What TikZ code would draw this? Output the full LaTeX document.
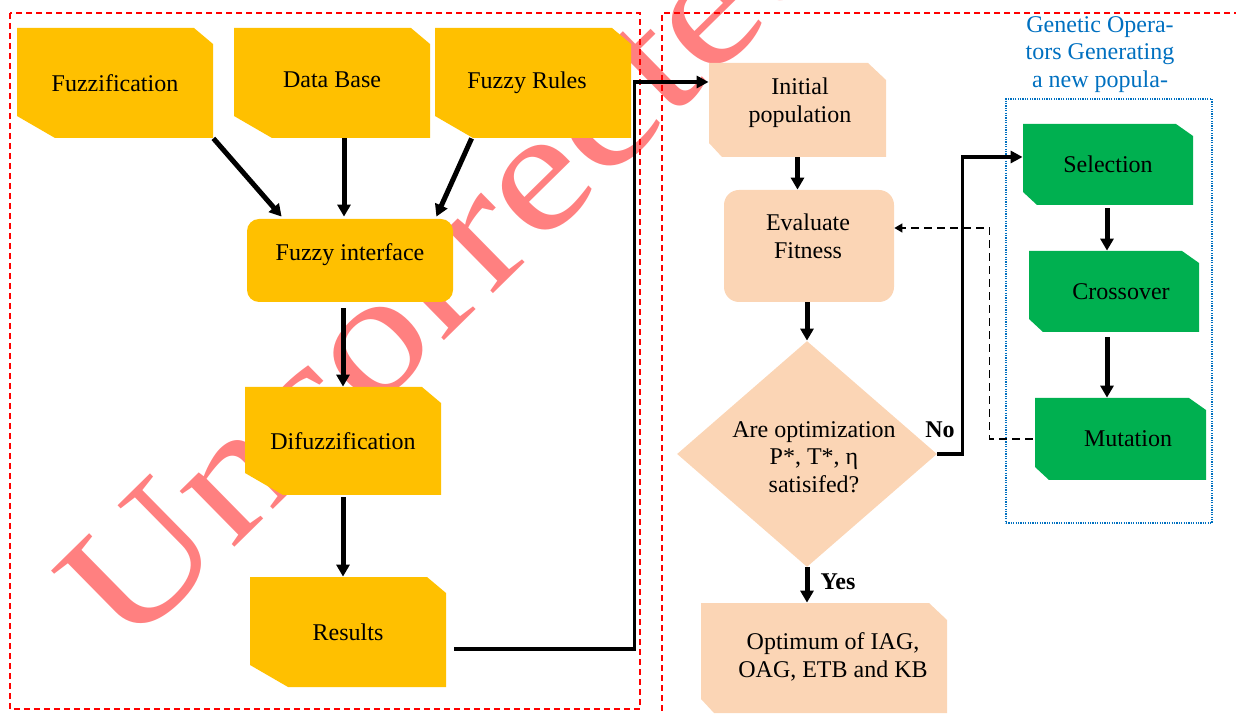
\documentclass[tikz,border=0pt]{standalone}
\usepackage{fontspec}
\setmainfont{Liberation Serif}
\usetikzlibrary{arrows.meta,shapes.geometric,calc}
\definecolor{fyel}{HTML}{FFC000}
\definecolor{fpeach}{HTML}{FBD5B5}
\definecolor{fgreen}{HTML}{00B050}
\definecolor{fblue}{HTML}{0070C0}
\definecolor{wm}{HTML}{FF8080}
\begin{document}
\begin{tikzpicture}[x=0.5pt,y=-0.5pt,
 font=\fontsize{12}{13.8}\selectfont,
 snipbox/.style n args={5}{rectangle, inner sep=0pt, path picture={
   \fill[#1] ([xshift=-#2]path picture bounding box.north east) -- ([yshift=-#3]path picture bounding box.north east) -- (path picture bounding box.south east) -- ([xshift=#4]path picture bounding box.south west) -- ([yshift=#5]path picture bounding box.south west) -- (path picture bounding box.north west) -- cycle;}},
 ybox/.style={snipbox={fyel}{9.5pt}{8pt}{19pt}{11pt}, minimum width=98pt, minimum height=55pt},
 gbox/.style={snipbox={fgreen}{8.5pt}{6pt}{7pt}{6.5pt}, minimum width=85pt, minimum height=40.5pt},
 pbox/.style={snipbox={fpeach}{9pt}{8.5pt}{6.5pt}{7pt}},
 rbox/.style={rectangle, inner sep=0pt, fill=#1},
 txt/.style={align=center, inner sep=0pt},
 arr/.style={line width=2.5pt, -{Triangle[length=6pt,width=6.5pt]}},
 arrthin/.style={line width=1.7pt, -{Triangle[length=6pt,width=6pt]}},
 dasharr/.style={line width=0.8pt, dash pattern=on 4pt off 2.5pt, -{Triangle[length=4pt,width=4.5pt]}},
 redbox/.style={red, line width=0.8pt, dash pattern=on 3pt off 2pt},
]
\useasboundingbox (0,0) rectangle (1236,715);
\clip (0,0) rectangle (1236,715);
% watermark
\node[text=wm, rotate=44.5, xscale=1.2, anchor=base west, inner sep=0pt, font=\fontsize{85}{90}\selectfont] (wmark) at (126.5,654) {Uncorrected};
% dashed frames
\draw[redbox] (10,13) rectangle (640,709);
\draw[redbox] (1240,13) -- (662,13) -- (662,720);
% left part
\node[ybox] (fuzz) at (115,83) {Fuzzification};
\node[ybox] (db) at (332,83) {\raisebox{3pt}{Data Base}};
\node[ybox] (rules) at (533,83) {\raisebox{3pt}{Fuzzy Rules\hspace{6pt}}};
\node[rbox=fyel, rounded corners=6pt, minimum width=103pt, minimum height=41.5pt] (finter) at (350,260.5) {\raisebox{8.5pt}{Fuzzy interface}};
\node[ybox, minimum height=54pt] (difuz) at (343,441) {Difuzzification};
\node[ybox] (res) at (348,632) {Results};
% right part
\node[pbox, minimum width=88.5pt, minimum height=47pt] (init) at (797.5,110) {};
\node[txt] (initT) at (800,102.5) {Initial\\population};
\node[rbox=fpeach, rounded corners=7.5pt, minimum width=85pt, minimum height=56pt] (eval) at (809,246) {};
\node[txt] (evalT) at (808,236.5) {Evaluate\\Fitness};
\node[diamond, fill=fpeach, minimum width=130pt, minimum height=113pt, inner sep=0pt] (diam) at (807,454) {};
\node[txt] (diamT) at (814,457) {Are optimization\\P*, T*, η\\satisifed?};
\node[pbox, minimum width=123pt, minimum height=55pt] (opt) at (824,658) {};
\node[txt] (optT) at (833,657) {Optimum of IAG,\\OAG, ETB and KB};
\node[draw=fblue, line width=0.8pt, dash pattern=on 0.6pt off 0.6pt, minimum width=103pt, minimum height=212pt, inner sep=0pt] (gobox) at (1109,311) {};
\node[txt, text=fblue] (goT) at (1100,54.5) {Genetic Opera-\\tors Generating\\a new popula-};
\node[gbox] (sel) at (1108,164.5) {Selection};
\node[gbox] (cross) at (1114,291.5) {\hspace{7pt}Crossover};
\node[gbox, minimum width=85.5pt, minimum height=41pt] (mut) at (1120.5,439) {\hspace{7.5pt}Mutation};
\node[txt] (no) at (940,430) {\bfseries No};
\node[txt] (yes) at (838,582) {\bfseries Yes};
% connectors
\draw[arr] (fuzz.south east) -- ([xshift=17.5pt,yshift=1pt]finter.north west);
\draw[arr] ([xshift=6pt]db.south) -- ([xshift=6pt,yshift=1pt]db.south |- finter.north);
\draw[arr] ([xshift=18.5pt]rules.south west) -- ([xshift=-8.5pt,yshift=1pt]finter.north east);
\draw[arr, shorten <=3pt] (difuz.north |- finter.south) -- (difuz.north);
\draw[arr, shorten <=1pt] (difuz.south) -- (difuz.south |- res.north);
\draw[arrthin] ([xshift=4pt,yshift=-8.5pt]res.east) -- ++(90pt,0pt) |- ([yshift=14pt]init.west);
\draw[arr] (init.south) -- (init.south |- eval.north);
\draw[arr] (diam.north |- eval.south) -- (diam.north);
\draw[arr] (diam.south) -- (diam.south |- opt.north);
\draw[arrthin] (diam.east) -- ++(12.5pt,0pt) |- ([yshift=3.75pt]sel.west);
\draw[arr, shorten <=1.5pt] ([xshift=-0.5pt]sel.south) -- ([xshift=-0.5pt]sel.south |- cross.north);
\draw[arr, shorten <=2.5pt] ([xshift=-0.5pt]sel.south |- cross.south) -- ([xshift=-0.5pt]sel.south |- mut.north);
\draw[dasharr] ([xshift=-1pt]mut.west) -- ++(-21.5pt,0pt) |- ([yshift=9pt]eval.east);
\end{tikzpicture}
\end{document}
